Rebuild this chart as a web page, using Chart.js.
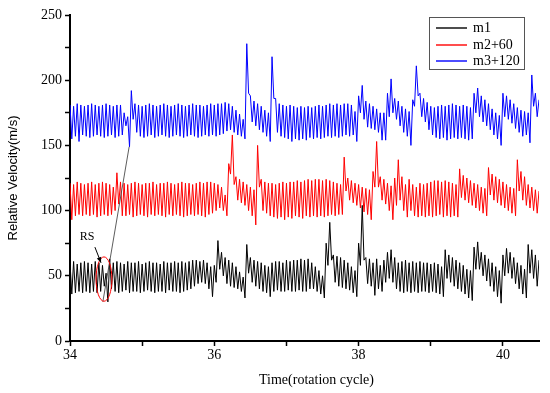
<!DOCTYPE html>
<html><head><meta charset="utf-8">
<script src="https://cdn.jsdelivr.net/npm/chart.js@4.4.1/dist/chart.umd.min.js"></script>
<style>html,body{margin:0;padding:0;background:#fff}#wrap{width:550px;height:393px}</style>
</head><body><div id="wrap"><canvas id="c" width="550" height="393"></canvas></div>
<script>
// time axis: one blade-passing cycle every 0.05 rotation cycle, starting at 34
const tStart = 34;
const cycleLen = 0.05;
const xTickValues = [34, 35, 36, 37, 38, 39, 40];
const yTickValues = [0, 25, 50, 75, 100, 125, 150, 175, 200, 225, 250];
const seriesNames = ['m1', 'm2+60', 'm3+120'];

const m1Peak = [60,61,59,60,61,60,59,61,60,58,52,63,
 60,61,60,59,61,60,60,61,59,60,61,60,60,59,61,60,60,61,60,61,60,61,62,62,61,62,60,57,
 58,77,68,64,62,60,57,53,49,
 74,64,62,61,60,58,57,
 60,61,61,60,62,61,62,62,63,62,63,60,57,54,50,
 75,91,66,65,64,62,60,57,54,
 75,104,64,63,60,63,58,62,68,70,64,
 60,61,62,60,61,60,61,60,60,59,60,59,57,
 70,66,64,62,60,58,55,54,
 72,76,68,66,63,60,57,54,
 66,71,68,64,60,58,55,74,70,66,62];
const m1Trough = [36,37,38,37,38,37,38,37,38,42,30,40,
 38,37,38,39,37,38,38,37,38,39,38,37,38,38,37,39,38,38,37,38,39,40,42,44,45,44,40,34,
 45,55,50,44,42,41,40,38,33,
 52,45,42,40,38,37,34,
 38,39,38,38,39,38,38,39,38,38,40,40,38,36,33,
 58,62,45,42,41,40,39,37,34,
 58,62,44,42,35,40,38,45,48,45,40,
 38,37,38,37,38,37,38,38,37,38,37,36,34,
 48,45,42,40,38,36,33,31,
 55,55,50,46,42,38,34,29,
 50,52,48,44,40,36,33,52,48,42,40];

const m2Peak = [121,120,122,121,120,121,122,120,121,122,121,120,
 118,129,122,
 121,120,121,122,121,120,121,121,122,120,121,121,122,121,120,121,122,121,121,120,121,122,121,122,122,121,120,118,112,
 136,158,126,124,122,120,118,116,
 150,124,122,121,121,120,121,122,121,122,122,123,122,123,124,123,124,124,123,124,123,122,121,
 120,141,125,123,121,120,118,117,116,
 130,153,126,124,121,119,
 125,139,126,120,124,120,118,121,120,121,122,123,123,122,123,122,121,120,
 132,127,125,123,121,120,118,117,
 133,128,126,124,122,120,118,117,
 139,130,126,120,118,116,115];
const m2Trough = [93,96,97,96,97,96,97,95,96,97,96,97,
 100,105,96,
 96,97,95,96,97,96,95,97,96,97,96,95,97,96,97,96,95,96,97,96,97,96,95,97,98,100,102,100,96,
 128,120,108,106,104,100,96,89,
 118,100,98,96,95,94,95,93,95,94,96,95,94,96,95,96,95,96,95,96,97,96,97,
 97,115,108,106,104,102,99,97,93,
 118,118,108,105,100,93,
 104,108,100,95,100,96,95,96,95,96,95,96,97,95,96,95,96,95,
 110,108,106,104,102,100,98,96,
 112,108,106,104,102,100,98,96,
 115,108,104,102,100,98,97];

const m3Peak = [181,180,182,181,180,181,182,181,180,181,182,181,180,181,181,
 175,172,192,182,
 181,180,181,182,181,180,181,182,181,180,181,182,181,180,181,182,181,181,180,181,182,181,182,182,183,
 182,180,177,174,170,
 228,188,184,182,180,177,175,
 218,186,182,181,180,181,180,179,180,179,180,179,180,181,180,181,182,181,182,181,182,182,181,
 176,188,196,184,182,180,178,175,175,
 190,201,186,184,180,178,176,185,211,190,186,183,180,
 179,180,181,180,181,182,181,180,181,180,179,
 190,194,188,185,182,178,175,173,
 190,188,185,182,179,177,176,175,204,190,185];
const m3Trough = [155,157,153,158,157,156,157,158,157,156,157,158,156,157,158,
 165,149,170,160,
 157,156,157,158,156,157,158,157,156,157,158,157,156,157,158,157,156,157,158,157,158,157,158,159,161,
 162,160,158,157,155,
 190,168,165,162,160,157,153,
 186,160,157,156,155,153,155,154,155,154,156,155,156,155,156,157,156,157,156,157,158,157,158,
 153,175,170,164,163,162,160,154,154,
 172,175,170,165,160,157,150,180,188,172,168,162,158,
 156,155,156,154,155,156,155,156,155,154,155,
 175,172,168,165,162,158,155,150,
 172,170,167,163,160,157,158,152,180,172,170];

// RS annotation (data units)
const rsLabel = {x: 34.236, y: 80, text: 'RS'};
const rsArrow = {x1: 34.345, y1: 72, x2: 34.43, y2: 60};
const rsEllipse = {x: 34.471, y: 47.5, rx: 0.11, ry: 17};
const rsLine = {x1: 34.455, y1: 30, x2: 34.82, y2: 149};

function buildPoints(peaks, troughs) {
  const pts = [];
  for (let i = 0; i < peaks.length; i++) {
    const t = tStart + i * cycleLen;
    pts.push({x: t, y: peaks[i]});
    pts.push({x: t + cycleLen / 2, y: troughs[i]});
  }
  return pts;
}

const colors = ['#000000', '#ff0000', '#0000ff'];
const datasets = [
  {label: seriesNames[0], data: buildPoints(m1Peak, m1Trough)},
  {label: seriesNames[1], data: buildPoints(m2Peak, m2Trough)},
  {label: seriesNames[2], data: buildPoints(m3Peak, m3Trough)}
].map((d, k) => Object.assign(d, {borderColor: colors[k], backgroundColor: colors[k], borderWidth: 1, pointRadius: 0, tension: 0, fill: false}));

const serif = "'Liberation Serif', 'Times New Roman', serif";
const sans = "'Liberation Sans', Arial, sans-serif";

const overlay = {
  id: 'overlay',
  afterDatasetsDraw(chart) {
    const {ctx, scales: {x, y}, chartArea} = chart;
    ctx.save();
    // thin connecting line
    ctx.strokeStyle = '#333';
    ctx.lineWidth = 0.8;
    ctx.beginPath();
    ctx.moveTo(x.getPixelForValue(rsLine.x1), y.getPixelForValue(rsLine.y1));
    ctx.lineTo(x.getPixelForValue(rsLine.x2), y.getPixelForValue(rsLine.y2));
    ctx.stroke();
    // ellipse
    const cx = x.getPixelForValue(rsEllipse.x), cy = y.getPixelForValue(rsEllipse.y);
    const rx = Math.abs(x.getPixelForValue(rsEllipse.x + rsEllipse.rx) - cx);
    const ry = Math.abs(y.getPixelForValue(rsEllipse.y + rsEllipse.ry) - cy);
    ctx.strokeStyle = '#ff0000';
    ctx.lineWidth = 1;
    ctx.beginPath();
    ctx.ellipse(cx, cy, rx, ry, 0, 0, Math.PI * 2);
    ctx.stroke();
    // arrow
    const ax1 = x.getPixelForValue(rsArrow.x1), ay1 = y.getPixelForValue(rsArrow.y1);
    const ax2 = x.getPixelForValue(rsArrow.x2), ay2 = y.getPixelForValue(rsArrow.y2);
    ctx.strokeStyle = '#000';
    ctx.fillStyle = '#000';
    ctx.lineWidth = 1;
    ctx.beginPath(); ctx.moveTo(ax1, ay1); ctx.lineTo(ax2, ay2); ctx.stroke();
    const ang = Math.atan2(ay2 - ay1, ax2 - ax1);
    ctx.beginPath();
    ctx.moveTo(ax2, ay2);
    ctx.lineTo(ax2 - 6 * Math.cos(ang - 0.4), ay2 - 6 * Math.sin(ang - 0.4));
    ctx.lineTo(ax2 - 6 * Math.cos(ang + 0.4), ay2 - 6 * Math.sin(ang + 0.4));
    ctx.closePath(); ctx.fill();
    // label
    ctx.font = '12px ' + serif;
    ctx.textAlign = 'center'; ctx.textBaseline = 'middle';
    ctx.fillText(rsLabel.text, x.getPixelForValue(rsLabel.x), y.getPixelForValue(rsLabel.y));

    // legend box
    const bx = Math.round(chartArea.right - 110), by = Math.round(chartArea.top + 2), bw = 95, bh = 52;
    ctx.fillStyle = '#fff';
    ctx.fillRect(bx, by, bw, bh);
    ctx.strokeStyle = '#555';
    ctx.lineWidth = 1;
    ctx.strokeRect(bx + 0.5, by + 0.5, bw, bh);
    ctx.font = '14px ' + serif;
    ctx.textAlign = 'left'; ctx.textBaseline = 'middle';
    chart.data.datasets.forEach((ds, k) => {
      const ly = Math.round(by + 11 + k * 16.7);
      ctx.strokeStyle = colors[k];
      ctx.lineWidth = 1.4;
      ctx.beginPath(); ctx.moveTo(bx + 7, ly); ctx.lineTo(bx + 38, ly); ctx.stroke();
      ctx.fillStyle = '#000';
      ctx.fillText(ds.label, bx + 44, ly);
    });

    // axis titles
    ctx.fillStyle = '#000';
    ctx.font = '14px ' + serif;
    ctx.textAlign = 'center'; ctx.textBaseline = 'middle';
    ctx.fillText('Time(rotation cycle)', (chartArea.left + chartArea.right) / 2 + 12, 380);
    ctx.save();
    ctx.translate(13, (chartArea.top + chartArea.bottom) / 2);
    ctx.rotate(-Math.PI / 2);
    ctx.font = '13px ' + sans;
    ctx.fillText('Relative Velocity(m/s)', 0, 0);
    ctx.restore();
    ctx.restore();
  }
};

new Chart(document.getElementById('c'), {
  type: 'line',
  data: {datasets},
  options: {
    responsive: false,
    animation: false,
    layout: {padding: {left: 0, right: 11, top: 15, bottom: 0}},
    plugins: {legend: {display: false}, tooltip: {enabled: false}},
    scales: {
      x: {
        type: 'linear', min: 34, max: 40.5,
        afterBuildTicks: s => { s.ticks = xTickValues.map(v => ({value: v})); },
        afterFit: s => { s.height = 52; },
        ticks: {font: {family: serif, size: 14}, color: '#000', padding: 1, maxRotation: 0,
          callback: v => (v % 2 === 0 ? String(v) : '')},
        grid: {display: true, drawOnChartArea: false, drawTicks: true, tickLength: 5, tickColor: '#000', tickWidth: 1.5},
        border: {display: true, color: '#000', width: 2}
      },
      y: {
        min: 0, max: 250,
        afterBuildTicks: s => { s.ticks = yTickValues.map(v => ({value: v})); },
        afterFit: s => { s.width = 70; },
        ticks: {font: {family: serif, size: 14}, color: '#000', padding: 3,
          callback: v => (v % 50 === 0 ? String(v) : '')},
        grid: {display: true, drawOnChartArea: false, drawTicks: true, tickLength: 5, tickColor: '#000', tickWidth: 1.5},
        border: {display: true, color: '#000', width: 2}
      }
    }
  },
  plugins: [overlay]
});
</script>
</body></html>
